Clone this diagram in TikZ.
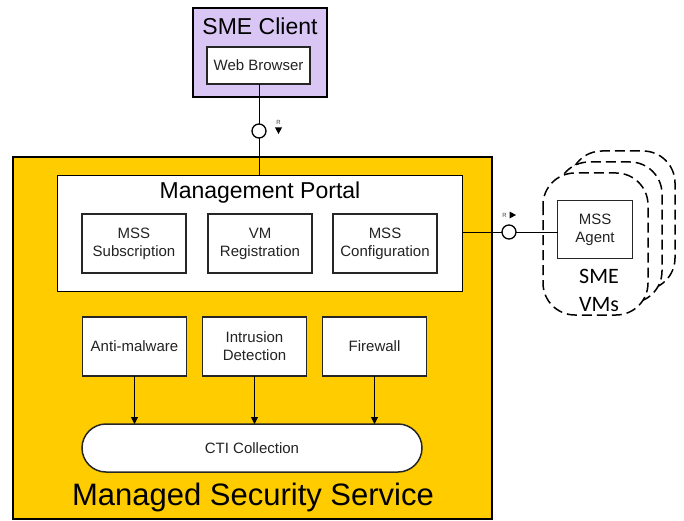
\documentclass[tikz,border=0pt]{standalone}
\usepackage{fontspec}
\setmainfont{Liberation Sans}
\newfontfamily\carlito{Carlito}
\usetikzlibrary{arrows.meta,shapes.misc}
\definecolor{gold}{RGB}{255,204,0}
\definecolor{lilac}{RGB}{218,198,244}
\definecolor{txt}{RGB}{35,35,35}
\tikzset{
  every node/.style={inner sep=0pt, outer sep=0pt},
  box/.style={draw=black!85, line width=1.5pt, fill=white, text=txt, align=center,
    font=\fontsize{15}{18}\selectfont},
  title/.style={text=black, font=\fontsize{23}{26}\selectfont},
  port/.style={circle, draw=black, line width=1.3pt, fill=white, minimum size=14pt},
  conn/.style={draw=black, line width=0.9pt},
  arr/.style={conn, -{Triangle[length=7pt,width=7pt]}},
  vm/.style={draw=black, line width=1.5pt, dash pattern=on 10pt off 5pt, fill=white, rounded corners=32pt},
  rlab/.style={font=\fontsize{6}{7}\selectfont, text=black!75}
}
\begin{document}
\begin{tikzpicture}[x=1pt,y=-1pt]
\useasboundingbox (0,0) rectangle (684,521);
% SME client
\node[draw=black, line width=1.4pt, fill=lilac, minimum width=134pt, minimum height=89pt] (client) at (260,52.5) {};
\node[title] (clienttitle) at (260,26) {SME Client};
\node[box, minimum width=103pt, minimum height=37pt] (web) at (258.5,65.5) {Web Browser};
% MSS
\node[draw=black, line width=1.5pt, fill=gold, minimum width=479pt, minimum height=362pt] (mss) at (252.5,338) {};
\node[draw=black, line width=1.5pt, fill=white, minimum width=405pt, minimum height=116pt] (portal) at (260,233.5) {};
\node[title] (portaltitle) at (260,192.5) {Management Portal};
\node[box, minimum width=104pt, minimum height=59pt] (sub) at (134,243.5) {MSS\\Subscription};
\node[box, minimum width=104pt, minimum height=59pt] (reg) at (260,243.5) {VM\\Registration};
\node[box, minimum width=104pt, minimum height=59pt] (conf) at (385,243.5) {MSS\\Configuration};
\node[box, minimum width=104pt, minimum height=59pt] (anti) at (134.5,346.5) {Anti-malware};
\node[box, minimum width=104pt, minimum height=59pt] (ids) at (254.5,346.5) {Intrusion\\Detection};
\node[box, minimum width=104pt, minimum height=59pt] (fw) at (374.5,346.5) {Firewall};
\node[box, rounded rectangle, minimum width=340pt, minimum height=48pt] (cti) at (252,448) {CTI Collection};
\node[font=\fontsize{31}{34}\selectfont, text=black] (msstitle) at (253,497) {Managed Security Service};
\draw[arr] (anti.south) -- (anti.south |- cti.north);
\draw[arr] (ids.south) -- (ids.south |- cti.north);
\draw[arr] (fw.south) -- (fw.south |- cti.north);
% top interface
\node[port] (c1) at (259,131) {};
\draw[conn] (web.south -| c1) -- (c1.north);
\draw[conn] (c1.south) -- (c1.south |- portal.north);
\node[rlab] (r1) at (278.5,122.5) {R};
\fill[black] (275,127.5) -- (282,127.5) -- (278.5,134) -- cycle;
% SME VMs
\draw[vm] (570,151) rectangle (675,290);
\draw[vm] (557,162) rectangle (662,303);
\draw[vm] (543,173) rectangle (648,315);
\node[box, minimum width=75pt, minimum height=58pt] (agent) at (595,229.5) {MSS\\Agent};
\node[font=\carlito\fontsize{22}{28}\selectfont, align=center, text=black] (vmlabel) at (599,290) {SME\\VMs};
% right interface
\node[port] (c2) at (509,232) {};
\draw[conn] (c2.west) -- (c2.west -| portal.east);
\draw[conn] (c2.east) -- (c2.east -| agent.west);
\node[rlab] (r2) at (504.5,215) {R};
\fill[black] (509.5,211.5) -- (509.5,218.5) -- (516,215) -- cycle;
\end{tikzpicture}
\end{document}
